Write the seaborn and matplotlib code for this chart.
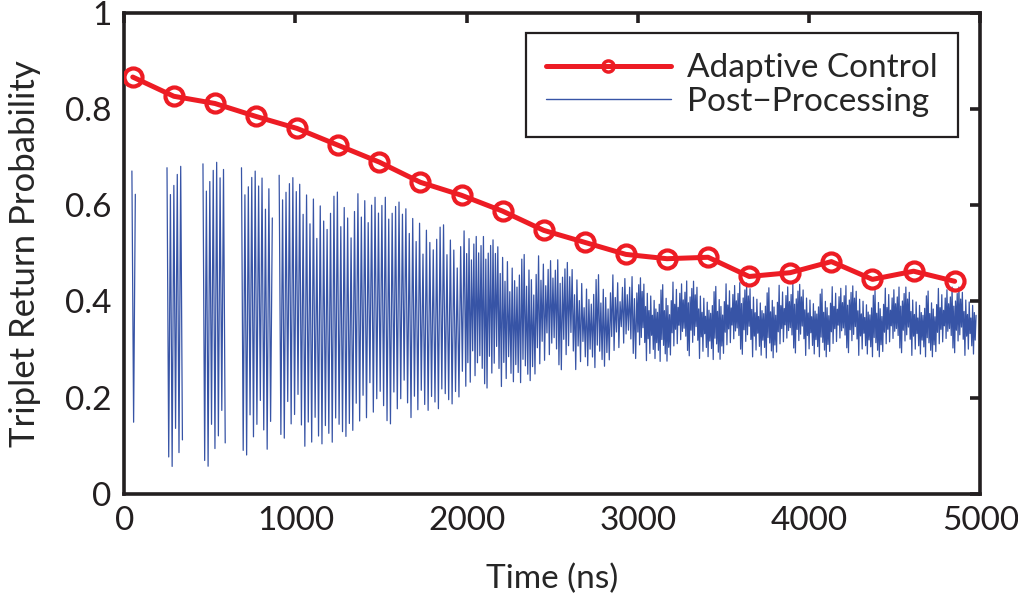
import numpy as np
import pandas as pd
import seaborn as sns
import matplotlib.pyplot as plt
from matplotlib.lines import Line2D

# Adaptive control points
adaptive_t = [50, 290, 530, 770, 1010, 1250, 1490, 1730, 1970, 2210, 2450,
              2690, 2930, 3170, 3410, 3650, 3890, 4130, 4370, 4610, 4850]
adaptive_p = [0.867, 0.827, 0.812, 0.785, 0.760, 0.725, 0.690, 0.648, 0.621,
              0.588, 0.548, 0.523, 0.498, 0.489, 0.492, 0.452, 0.460, 0.483,
              0.446, 0.463, 0.442]

# Post-processing trace: read envelope (upper / lower swing) and data windows
env_t = [0, 300, 550, 780, 950, 1100, 1300, 1500, 1700, 1900, 2100, 2300,
         2500, 2700, 2900, 3100, 3500, 4000, 4500, 5000]
env_upper = [0.67, 0.68, 0.69, 0.67, 0.66, 0.65, 0.63, 0.62, 0.595, 0.56,
             0.535, 0.51, 0.49, 0.47, 0.455, 0.445, 0.44, 0.435, 0.43, 0.43]
env_lower = [0.15, 0.04, 0.05, 0.08, 0.11, 0.09, 0.12, 0.13, 0.16, 0.185,
             0.21, 0.23, 0.245, 0.26, 0.27, 0.275, 0.28, 0.285, 0.285, 0.285]
seg_start = [45, 250, 460, 685, 905]
seg_end = [65, 340, 595, 865, 4975]

RED = '#ed1c24'
BLUE = '#3754a6'

# swing depth per vertex (texture only)
depth = [1.0, 0.93, 0.82, 0.97, 0.88, 0.7, 0.95, 0.86, 1.0, 0.78, 0.9, 0.62,
         0.96, 0.84, 0.74, 0.99, 0.89, 0.8, 0.68, 0.94, 0.87, 0.76, 0.58,
         0.91, 0.83, 0.98, 0.72, 0.85, 0.66, 0.92, 0.79]
rows = []
for s, (a, b) in enumerate(zip(seg_start, seg_end)):
    if b > 2000:
        t = np.concatenate([np.arange(a, 2000, 10.0), np.arange(2000, 3000, 7.0),
                            np.arange(3000, b + 1, 5.0)])
    else:
        t = np.arange(a, b + 1, 10.0)
    up = np.interp(t, env_t, env_upper)
    lo = np.interp(t, env_t, env_lower)
    mid, half = (up + lo) / 2, (up - lo) / 2
    # swings get more ragged as the signal dephases
    expo = np.interp(t, [1800, 3200], [1.0, 4.0])
    for i, ti in enumerate(t):
        sign = 1 if i % 2 == 0 else -1
        d = depth[i % len(depth)] ** expo[i]
        rows.append((s, ti, mid[i] + sign * half[i] * d))
post = pd.DataFrame(rows, columns=['seg', 'time', 'prob'])

sns.set_style('white')
plt.rcParams['font.family'] = ['Lato', 'DejaVu Sans']
plt.rcParams['font.size'] = 24

fig, ax = plt.subplots(figsize=(10.18, 5.97), dpi=100)
plt.subplots_adjust(left=0.122, right=0.963, bottom=0.173, top=0.978)

sns.lineplot(x=adaptive_t, y=adaptive_p, ax=ax, color=RED, lw=3.6,
             marker='o', markersize=13, mfc='none', mec=RED, mew=3,
             zorder=3, legend=False)
sns.lineplot(data=post, x='time', y='prob', units='seg', estimator=None,
             sort=False, ax=ax, color=BLUE, lw=0.9, zorder=2, legend=False)

ax.set_xlim(0, 5000)
ax.set_ylim(0, 1)
ax.set_xticks([0, 1000, 2000, 3000, 4000, 5000])
ax.set_yticks([0, 0.2, 0.4, 0.6, 0.8, 1])
ax.set_yticklabels(['0', '0.2', '0.4', '0.6', '0.8', '1'])
ax.set_xlabel('Time (ns)', labelpad=20)
ax.set_ylabel('Triplet Return Probability', labelpad=17, fontsize=25)

for sp in ax.spines.values():
    sp.set_linewidth(2.6)
    sp.set_color('#231f20')
ax.tick_params(direction='in', length=7, width=2.6, top=True, right=True,
               colors='#231f20', labelcolor='#231f20', pad=9)

handles = [Line2D([], [], color=RED, lw=3.6, marker='o', ms=8, mfc='none',
                  mec=RED, mew=2.5),
           Line2D([], [], color=BLUE, lw=1.0)]
leg = ax.legend(handles, ['Adaptive Control', 'Post\u2212Processing'],
                loc='upper right', bbox_to_anchor=(0.974, 0.958),
                borderaxespad=0, handlelength=3.75, handletextpad=0.5,
                borderpad=0.6, labelspacing=0.1, fancybox=False,
                framealpha=1)
leg.get_frame().set_edgecolor('#231f20')
leg.get_frame().set_linewidth(1.6)

fig.savefig('out.png', dpi=100)
